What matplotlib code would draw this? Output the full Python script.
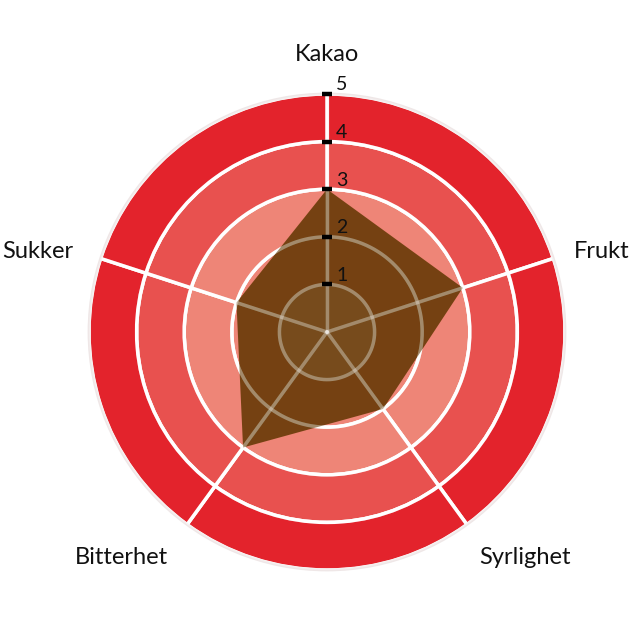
import numpy as np
import matplotlib
matplotlib.use("Agg")
import matplotlib.pyplot as plt

plt.rcParams['font.family'] = ['Lato', 'DejaVu Sans']

categories = ["Kakao", "Frukt", "Syrlighet", "Bitterhet", "Sukker"]
values = [3, 3, 2, 3, 2]
levels = [1, 2, 3, 4, 5]
ring_colors = ["#f8c4ba", "#ee8577", "#ee8577", "#e8514f", "#e3232c"]

n = len(categories)
angles = np.arange(n) * 2 * np.pi / n

fig = plt.figure(figsize=(6.4, 6.41), dpi=100)
ax = fig.add_axes([89 / 640, 71 / 641, 476 / 640, 476 / 641], projection='polar')
ax.set_theta_offset(np.pi / 2)
ax.set_theta_direction(-1)
ax.set_ylim(0, 5)
ax.grid(False)
ax.set_xticks([])
ax.set_yticks([])
ax.spines['polar'].set_color('#efe7e7')
ax.spines['polar'].set_linewidth(2)

# background rings, one bar per sector and level
width = 2 * np.pi / n
for i, lev in enumerate(levels):
    ax.bar(angles + width / 2, 1, width=width, bottom=lev - 1,
           color=ring_colors[i], edgecolor='white', linewidth=2.5, zorder=1)

# data polygon
closed_a = np.append(angles, angles[0])
closed_v = np.append(values, values[0])
ax.fill(closed_a, closed_v, color='#603600', alpha=0.85, lw=0, zorder=2)

# grid over everything, faint white
t = np.linspace(0, 2 * np.pi, 400)
for lev in levels:
    ax.plot(t, np.full_like(t, lev), color='white', alpha=0.32, lw=2.5, zorder=3)
for a in angles:
    ax.plot([a, a], [0, 5], color='white', alpha=0.32, lw=2.5, zorder=3)

# tick marks and labels on first axis
ax.plot(np.zeros(len(levels)), levels, ls='', marker='_', ms=7.5, mew=3.2,
        color='black', zorder=5, clip_on=False)
for lev in levels:
    ax.annotate(str(lev), (0, lev), xytext=(9, 9), textcoords='offset pixels',
                fontsize=14, ha='left', va='center', color='#111111',
                annotation_clip=False)

# category labels
for a, name in zip(angles, categories):
    x, y = np.sin(a), np.cos(a)
    ha = 'center' if abs(x) < 0.1 else ('left' if x > 0 else 'right')
    va = 'bottom' if y > 0.5 else ('top' if y < -0.5 else 'center')
    r = 5.6 if va == 'bottom' else 5.45
    dx = -7 if ha == 'right' else 0
    dy = -5 if va == 'top' else 0
    ax.annotate(name, (a, r), xytext=(dx, dy), textcoords='offset pixels',
                fontsize=17, ha=ha, va=va, color='#111111',
                annotation_clip=False)

fig.savefig("out.png", dpi=100)
